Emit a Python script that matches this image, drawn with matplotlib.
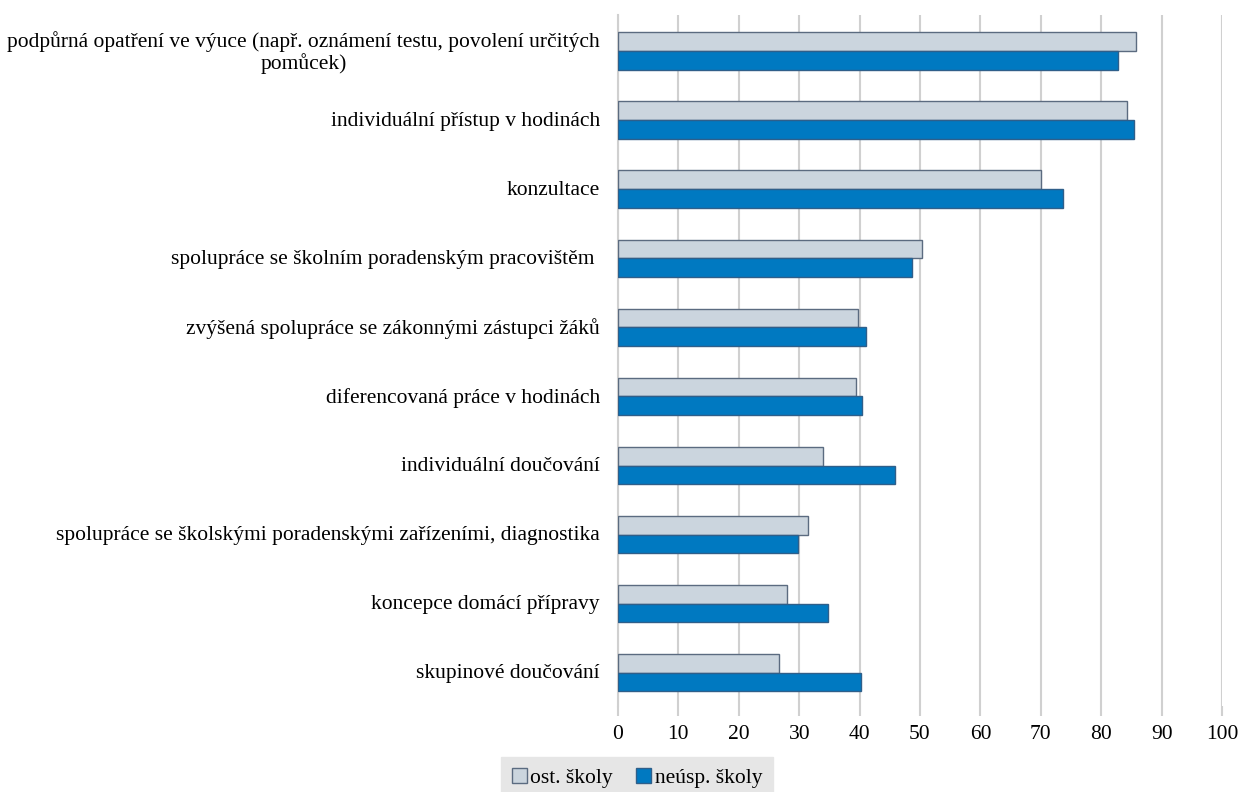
import matplotlib.pyplot as plt
import numpy as np

plt.rcParams['font.family'] = ['Liberation Serif', 'DejaVu Serif']

categories = [
    "podpůrná opatření ve výuce (např. oznámení testu, povolení určitých\npomůcek)",
    "individuální přístup v hodinách",
    "konzultace",
    "spolupráce se školním poradenským pracovištěm ",
    "zvýšená spolupráce se zákonnými zástupci žáků",
    "diferencovaná práce v hodinách",
    "individuální doučování",
    "spolupráce se školskými poradenskými zařízeními, diagnostika",
    "koncepce domácí přípravy",
    "skupinové doučování",
]
ost_skoly = [85.7, 84.3, 70.1, 50.3, 39.7, 39.4, 34.0, 31.4, 28.0, 26.7]
neusp_skoly = [82.7, 85.4, 73.6, 48.6, 41.0, 40.4, 45.8, 29.8, 34.7, 40.3]

fig = plt.figure(figsize=(12.39, 7.92), dpi=100)
ax = fig.add_axes([618/1239, 1 - 706/792, 604/1239, 691/792])

y = np.arange(len(categories))
h = 0.27
ax.barh(y - h/2 + 0.02, ost_skoly, height=h, color='#cbd5de', edgecolor='#5b6b80',
        linewidth=1, label='ost. školy', zorder=3)
ax.barh(y + h/2 + 0.02, neusp_skoly, height=h, color='#0079c1', edgecolor='#2f5f8a',
        linewidth=1, label='neúsp. školy', zorder=3)

ax.set_ylim(len(categories) - 0.5, -0.5)
ax.set_xlim(0, 100)
ax.set_xticks(range(0, 101, 10))
ax.set_yticks(y)
ax.set_yticklabels(categories, fontsize=15.5, linespacing=1.05)
for lbl in ax.get_yticklabels():
    lbl.set_multialignment('center')
ax.tick_params(axis='x', labelsize=15.5, length=7, color='#d0d0d0', width=1.5, pad=7)
ax.tick_params(axis='y', length=0, pad=13)
ax.grid(axis='x', color='#d0d0d0', linewidth=1.5, zorder=0)
for s in ['top', 'right', 'bottom']:
    ax.spines[s].set_visible(False)
ax.spines['left'].set_color('#d0d0d0')
ax.spines['left'].set_linewidth(1.5)

leg = fig.legend(loc='lower center', bbox_to_anchor=(0.514, -0.022), ncol=2,
                 fontsize=15.5, frameon=True, fancybox=False, handlelength=0.7,
                 handleheight=0.7, handletextpad=0.15, columnspacing=1.1,
                 borderpad=0.5)
leg.get_frame().set_facecolor('#e6e6e6')
leg.get_frame().set_edgecolor('#e6e6e6')
leg.get_frame().set_alpha(1)

fig.savefig('out.png', dpi=100)
